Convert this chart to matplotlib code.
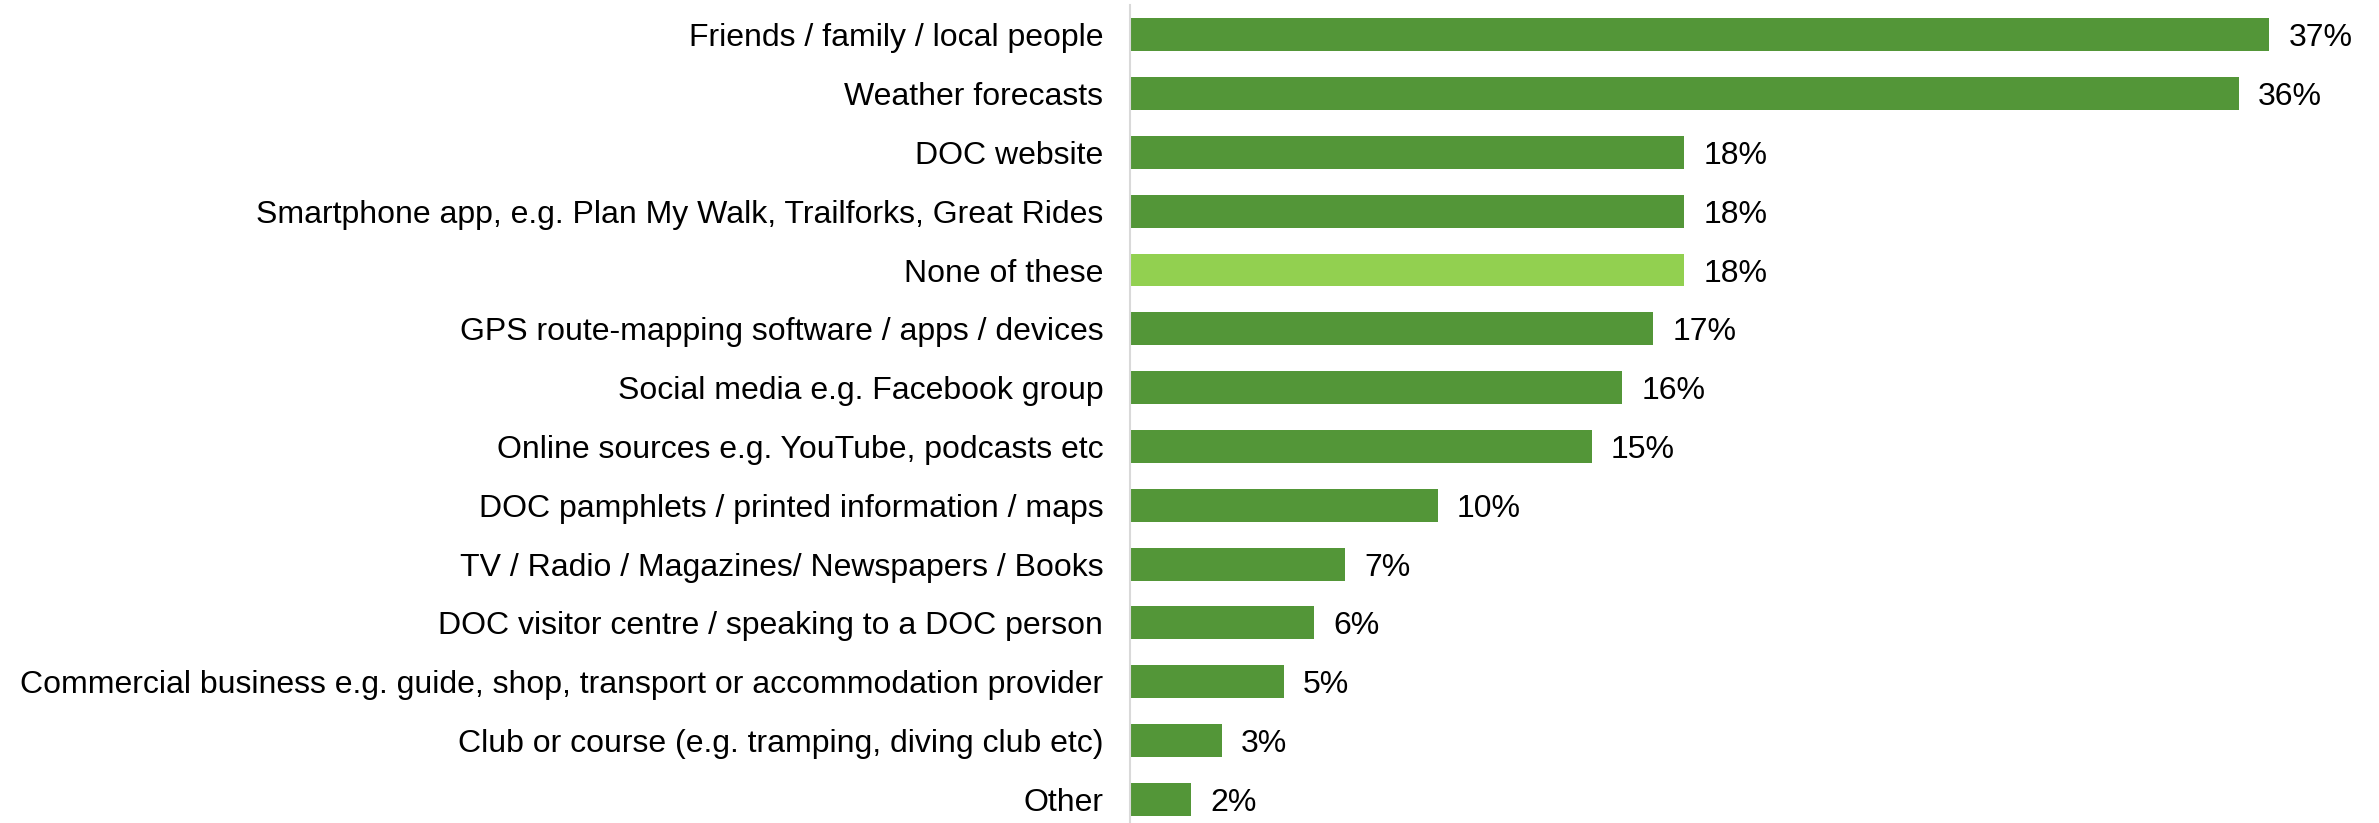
import matplotlib.pyplot as plt

plt.rcParams['font.family'] = ['Liberation Sans', 'DejaVu Sans']

categories = [
    "Friends / family / local people",
    "Weather forecasts",
    "DOC website",
    "Smartphone app, e.g. Plan My Walk, Trailforks, Great Rides",
    "None of these",
    "GPS route-mapping software / apps / devices",
    "Social media e.g. Facebook group",
    "Online sources e.g. YouTube, podcasts etc",
    "DOC pamphlets / printed information / maps",
    "TV / Radio / Magazines/ Newspapers / Books",
    "DOC visitor centre / speaking to a DOC person",
    "Commercial business e.g. guide, shop, transport or accommodation provider",
    "Club or course (e.g. tramping, diving club etc)",
    "Other",
]
values = [37, 36, 18, 18, 18, 17, 16, 15, 10, 7, 6, 5, 3, 2]
highlight = "None of these"

GREEN = "#539638"
LIGHT_GREEN = "#92D050"
colors = [LIGHT_GREEN if c == highlight else GREEN for c in categories]

fig = plt.figure(figsize=(23.79, 8.23), dpi=100)
ax = fig.add_axes([0.4748, -0.007, 0.518, 1.0005])

y = list(range(len(categories)))
ax.barh(y, values, height=0.56, color=colors)
ax.set_ylim(len(categories) - 0.5, -0.5)
ax.set_xlim(0, 40)

for yi, v in zip(y, values):
    ax.text(v + 0.62, yi, f"{v}%", va="center_baseline", ha="left", fontsize=23)

ax.set_yticks(y)
ax.set_yticklabels(categories, fontsize=23, va="center_baseline")
ax.tick_params(axis="y", length=0, pad=19)
ax.set_xticks([])
for side in ["top", "right", "bottom"]:
    ax.spines[side].set_visible(False)
ax.spines["left"].set_color("#d9d9d9")
ax.spines["left"].set_linewidth(1.5)

fig.savefig("out.png", dpi=100)
